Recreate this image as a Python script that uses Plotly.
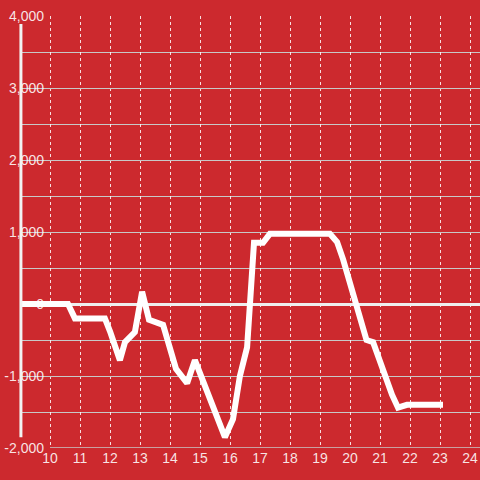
import plotly.graph_objects as go

hours = [9, 10.6, 10.83, 11.83, 12.0, 12.33, 12.5, 12.83, 13.07, 13.3, 13.77, 14.2, 14.57, 14.83,
         15.83, 16.1, 16.33, 16.57, 16.8, 17.1, 17.33, 19.33, 19.57, 19.77, 20.55, 20.77, 21.4,
         21.6, 21.9, 23.1]
values = [0, 0, -200, -200, -380, -780, -530, -390, 170, -220, -290, -900, -1100, -780,
          -1850, -1600, -1000, -600, 850, 850, 975, 975, 860, 620, -500, -530, -1260,
          -1440, -1400, -1400]

x_ticks = list(range(10, 25))
x_ticktext = [str(v) for v in x_ticks]
y_ticks = [-2000, -1000, 0, 1000, 2000, 3000, 4000]
y_ticktext = ["-2,000", "-1,000", "0", "1,000", "2,000", "3,000", "4,000"]

BG = "#cc292e"
LABEL = "rgba(255,255,255,0.88)"
GRID = "#c8c8c8"

fig = go.Figure()
fig.add_trace(go.Scatter(x=hours, y=values, mode="lines",
                         line=dict(color="#ffffff", width=6), hoverinfo="skip"))

fig.update_layout(
    width=480, height=480,
    margin=dict(l=20, r=0, t=16, b=32),
    paper_bgcolor=BG, plot_bgcolor=BG,
    showlegend=False,
    font=dict(family="Liberation Sans, Arial, sans-serif", size=14, color=LABEL),
    xaxis=dict(range=[9.0, 24.3333], tickvals=x_ticks, ticktext=x_ticktext,
               showgrid=True, gridcolor="rgba(255,255,255,0.85)", griddash="dot", gridwidth=1,
               zeroline=False, showline=False, ticks="", tickfont=dict(size=14, color=LABEL)),
    yaxis=dict(range=[-2000, 4000], tickvals=y_ticks, ticktext=y_ticktext,
               showgrid=True, gridcolor=GRID, gridwidth=1,
               minor=dict(dtick=500, tick0=0, showgrid=True, gridcolor=GRID, gridwidth=1),
               zeroline=True, zerolinecolor="#eeeeee", zerolinewidth=3,
               showline=False, ticks="", ticklabelstandoff=-25,
               tickfont=dict(size=14, color=LABEL)),
    shapes=[
        dict(type="line", xref="x", yref="y", x0=10, x1=24.3333, y0=-2000, y1=-2000,
             line=dict(color=GRID, width=1.5)),
        dict(type="line", xref="paper", yref="y", x0=0.002, x1=0.002, y0=3890, y1=-1850,
             line=dict(color="#f2f2f2", width=3)),
    ],
)

fig.write_html("out.html", config={"displayModeBar": False},
               post_script="document.body.style.margin='0px';")
